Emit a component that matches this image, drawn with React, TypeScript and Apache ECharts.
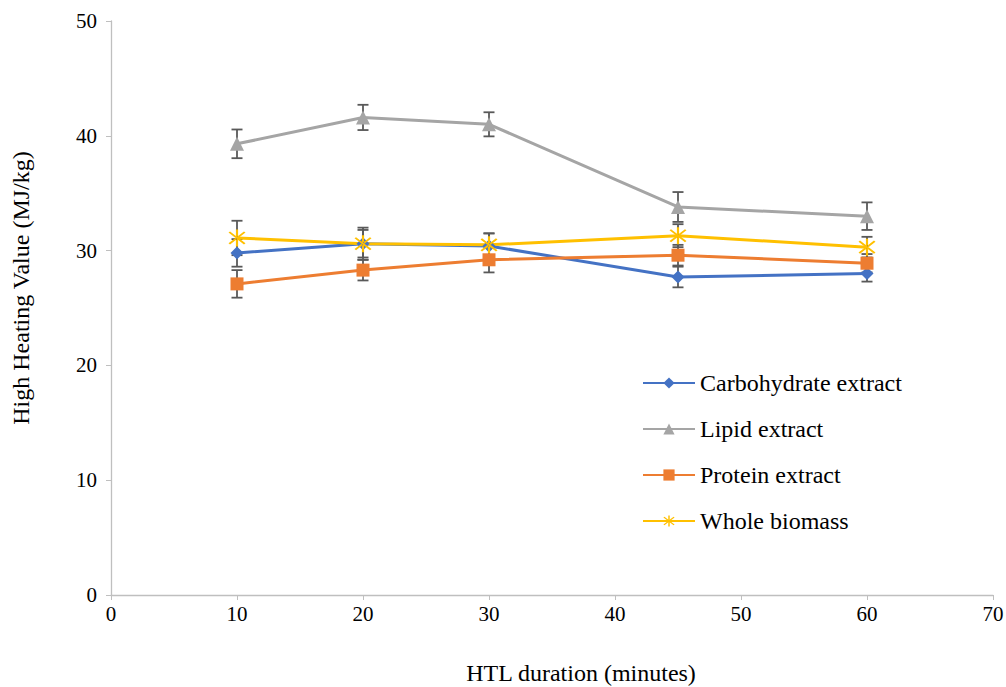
import React, { useEffect, useRef } from "react";
import * as echarts from "echarts";

const durations = [10, 20, 30, 45, 60];
const seriesNames = ["Carbohydrate extract", "Lipid extract", "Protein extract", "Whole biomass"];
const carbohydrate = [29.8, 30.6, 30.4, 27.7, 28.0];
const carbohydrateErr = [1.2, 1.2, 1.1, 0.9, 0.7];
const lipid = [39.3, 41.6, 41.0, 33.8, 33.0];
const lipidErr = [1.25, 1.1, 1.05, 1.3, 1.2];
const protein = [27.1, 28.3, 29.2, 29.6, 28.9];
const proteinErr = [1.2, 0.9, 1.1, 0.9, 0.8];
const whole = [31.1, 30.6, 30.5, 31.3, 30.3];
const wholeErr = [1.5, 1.4, 1.0, 1.0, 0.9];
const colors = ["#4472C4", "#A5A5A5", "#ED7D31", "#FFC000"];

const starPath =
  "path://M-1,-10 L1,-10 L1,10 L-1,10 Z M-6.3,-7.7 L7.7,6.3 L6.3,7.7 L-7.7,-6.3 Z M-6.3,7.7 L7.7,-6.3 L6.3,-7.7 L-7.7,6.3 Z";

const font = "'Liberation Serif', 'Times New Roman', serif";

export default function App() {
  const ref = useRef<HTMLDivElement>(null);
  useEffect(() => {
    const chart = echarts.init(ref.current!, undefined, { renderer: "svg" });
    const values = [carbohydrate, lipid, protein, whole];
    const errs = [carbohydrateErr, lipidErr, proteinErr, wholeErr];
    const symbols = ["diamond", "triangle", "rect", starPath];
    const sizes = [13, 14, 13, 17];

    const lineSeries = values.map((vals, i) => ({
      name: seriesNames[i],
      type: "line",
      data: durations.map((d, j) => [d, vals[j]]),
      symbol: symbols[i],
      symbolSize: sizes[i],
      showSymbol: true,
      lineStyle: { color: colors[i], width: 3 },
      itemStyle: { color: colors[i] },
      z: 3,
    }));

    const errSeries = values.map((vals, i) => ({
      name: seriesNames[i] + " error",
      type: "custom",
      data: durations.map((d, j) => [d, vals[j] - errs[i][j], vals[j] + errs[i][j]]),
      z: 2,
      silent: true,
      renderItem: (params: any, api: any) => {
        const x = api.value(0);
        const lo = api.coord([x, api.value(1)]);
        const hi = api.coord([x, api.value(2)]);
        const w = 5.5;
        const style = { stroke: "#595959", lineWidth: 1.8 };
        return {
          type: "group",
          children: [
            { type: "line", shape: { x1: lo[0], y1: lo[1], x2: hi[0], y2: hi[1] }, style },
            { type: "line", shape: { x1: lo[0] - w, y1: lo[1], x2: lo[0] + w, y2: lo[1] }, style },
            { type: "line", shape: { x1: hi[0] - w, y1: hi[1], x2: hi[0] + w, y2: hi[1] }, style },
          ],
        };
      },
    }));

    chart.setOption({
      animation: false,
      backgroundColor: "#ffffff",
      textStyle: { fontFamily: font },
      grid: { left: 111, right: 13, top: 21, bottom: 92, containLabel: false, outerBoundsMode: "none" },
      legend: {
        data: seriesNames,
        orient: "vertical",
        left: 637,
        top: 366,
        itemWidth: 52,
        itemHeight: 14,
        itemGap: 22,
        textStyle: { fontFamily: font, fontSize: 24, color: "#000" },
      },
      xAxis: {
        type: "value",
        min: 0,
        max: 70,
        interval: 10,
        name: "HTL duration (minutes)",
        nameLocation: "middle",
        nameGap: 66,
        nameTextStyle: { fontFamily: font, fontSize: 24, color: "#000", padding: [0, 0, 0, 58] },
        axisLine: { lineStyle: { color: "#BFBFBF", width: 1.3 } },
        axisTick: { show: true, length: 5, lineStyle: { color: "#BFBFBF" } },
        axisLabel: { fontFamily: font, fontSize: 21, color: "#000", margin: 8 },
        splitLine: { show: false },
      },
      yAxis: {
        type: "value",
        min: 0,
        max: 50,
        interval: 10,
        name: "High Heating Value (MJ/kg)",
        nameLocation: "middle",
        nameGap: 78,
        nameTextStyle: { fontFamily: font, fontSize: 24, color: "#000", padding: [0, 0, 0, 40] },
        axisLine: { show: true, lineStyle: { color: "#BFBFBF", width: 1.3 } },
        axisTick: { show: true, length: 5, lineStyle: { color: "#BFBFBF" } },
        axisLabel: { fontFamily: font, fontSize: 21, color: "#000", margin: 14 },
        splitLine: { show: false },
      },
      series: [...errSeries, ...lineSeries],
    });
    return () => chart.dispose();
  }, []);
  return <div ref={ref} style={{ width: 1006, height: 687, position: "absolute", left: 0, top: 0 }} />;
}
